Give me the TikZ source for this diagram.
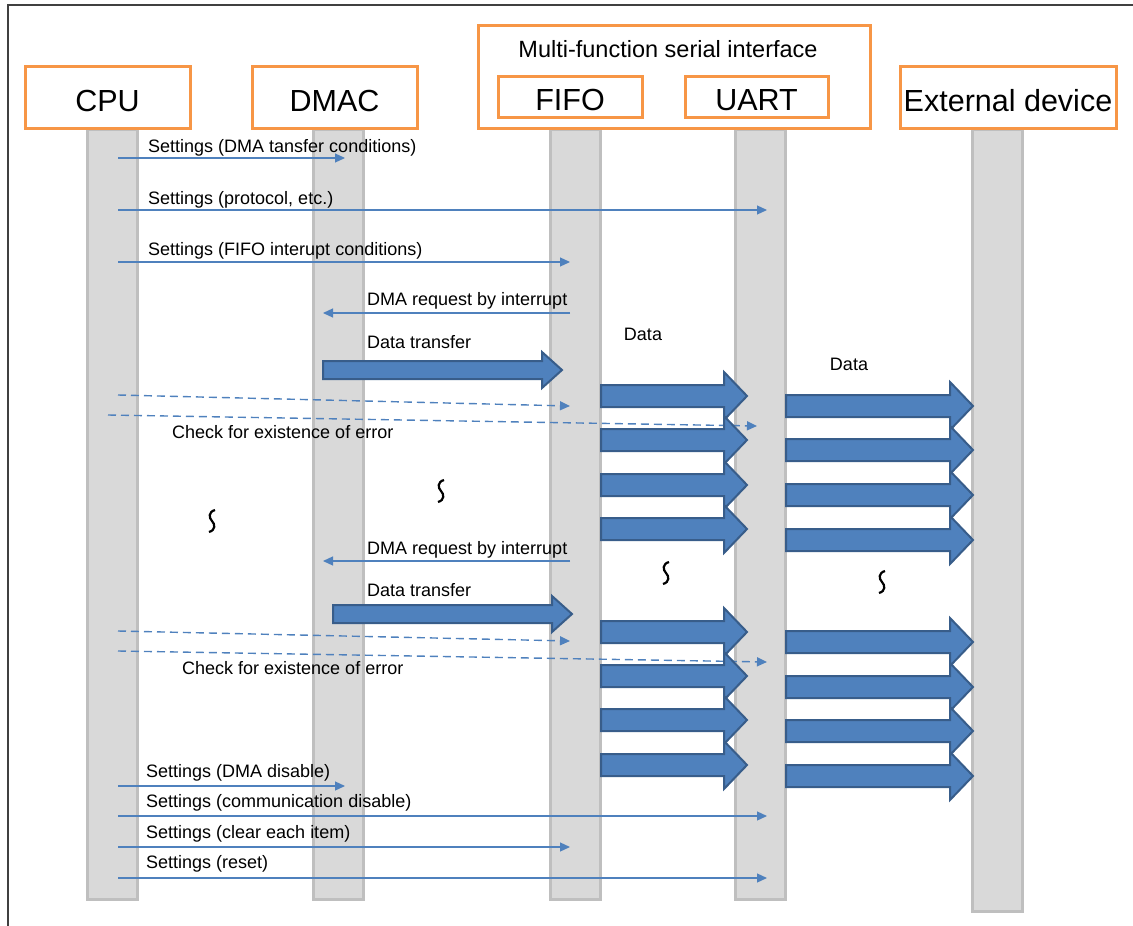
\documentclass[tikz,border=0pt]{standalone}
\usepackage{fontspec}
\setmainfont{Liberation Sans}
\usetikzlibrary{arrows.meta,positioning}

\definecolor{boxorange}{HTML}{F79646}
\definecolor{lifegray}{HTML}{D9D9D9}
\definecolor{lifeedge}{HTML}{BFBFBF}
\definecolor{msgblue}{HTML}{4F81BD}
\definecolor{blockedge}{HTML}{385D8A}
\definecolor{framegray}{HTML}{404040}

\begin{document}
\begin{tikzpicture}[x=1pt, y=-1pt, font=\fontsize{18}{20}\selectfont,
  unit/.style={draw=boxorange, line width=3pt, fill=white, inner sep=0pt,
    text height=28pt, text depth=0pt, font=\fontsize{30.5}{34}\selectfont},
  life/.style={draw=lifeedge, fill=lifegray, line width=3pt, inner sep=0pt,
    anchor=north, minimum width=50pt},
  msg/.style={draw=msgblue, line width=1.2pt, -{Triangle[length=10pt,width=9pt]}},
  check/.style={msg, dash pattern=on 8pt off 5pt, line width=1.4pt},
  lbl/.style={anchor=west, inner sep=0pt},
  datablk/.style={fill=msgblue, draw=blockedge, line width=2pt, line join=miter}]
\useasboundingbox (0,0) rectangle (1133,926);

% outer frame
\draw[framegray, line width=1.5pt] (8,926) -- (8,5) -- (1133,5);

% lifelines
\node[life, minimum height=770pt] (cpuL)  at (112.5,128) {};
\node[life, minimum height=770pt] (dmacL) at (338.5,128) {};
\node[life, minimum height=770pt] (fifoL) at (575.5,128) {};
\node[life, minimum height=770pt] (uartL) at (760.5,128) {};
\node[life, minimum height=782pt] (extL)  at (997.5,128) {};

% units
\node[unit, minimum width=165pt, minimum height=62pt] (cpu)  at (107.5,97) {CPU};
\node[unit, minimum width=165pt, minimum height=62pt] (dmac) at (334.5,97) {DMAC};
\node[unit, minimum width=392pt, minimum height=103pt] (mfs) at (674,76.5) {};
\node[font=\fontsize{23.5}{26}\selectfont] (mfstitle) at (668,49) {Multi-function serial interface};
\node[unit, minimum width=144pt, minimum height=41pt] (fifo) at (570,96.5) {FIFO};
\node[unit, minimum width=143pt, minimum height=41pt] (uart) at (756.5,96.5) {UART};
\node[unit, minimum width=216pt, minimum height=62pt] (ext) at (1008,97) {External device};

% arrow end points on the lifelines
\coordinate (cpuX)  at (118,0);
\coordinate (cpuW)  at (108,0);
\coordinate (dmacX) at (345,0);
\coordinate (dmacY) at (323,0);
\coordinate (fifoX) at (570,0);
\coordinate (uartX) at (767,0);
\coordinate (uartW) at (757,0);

% settings
\foreach \f/\t/\y in {cpuX/dmacX/158, cpuX/uartX/210, cpuX/fifoX/262,
                      fifoX/dmacY/313, fifoX/dmacY/561,
                      cpuX/dmacX/786, cpuX/uartX/816, cpuX/fifoX/847, cpuX/uartX/878}
  \draw[msg] (\f |- 0,\y) -- (\t |- 0,\y);

% error checks
\draw[check] (cpuX |- 0,395) -- (fifoX |- 0,406);
\draw[check] (cpuW |- 0,415) -- (uartW |- 0,426);
\draw[check] (cpuX |- 0,631) -- (fifoX |- 0,641);
\draw[check] (cpuX |- 0,651) -- (uartX |- 0,662);

% data transfer (DMAC -> FIFO)
\foreach \a/\b/\c in {323/562/370, 333/572/614}
  \filldraw[datablk] (\a,\c-9) -- (\b-20,\c-9) -- (\b-20,\c-18) -- (\b,\c)
    -- (\b-20,\c+18) -- (\b-20,\c+9) -- (\a,\c+9) -- cycle;

% data (FIFO -> UART -> external device)
\foreach \a/\b/\c in {601/747/396, 601/747/440, 601/747/485, 601/747/529,
                      786/973/406, 786/973/450, 786/973/495, 786/973/540,
                      601/747/632, 601/747/676, 601/747/720, 601/747/765,
                      786/973/642, 786/973/687, 786/973/731, 786/973/776}
  \filldraw[datablk] (\a,\c-11) -- (\b-23,\c-11) -- (\b-23,\c-24) -- (\b,\c)
    -- (\b-23,\c+24) -- (\b-23,\c+11) -- (\a,\c+11) -- cycle;

% omission marks
\foreach \x/\y in {441/491, 212/521, 666/573, 882/582}
  \draw[line width=2.2pt] (\x+3,\y-11) .. controls (\x-4,\y-9) and (\x-3,\y-3) .. (\x,\y)
    .. controls (\x+3,\y+3) and (\x+4,\y+9) .. (\x-3,\y+11);

% labels
\node[lbl] (t1)  at (148,148) {Settings (DMA tansfer conditions)};
\node[lbl] (t2)  at (148,200) {Settings (protocol, etc.)};
\node[lbl] (t3)  at (148,251) {Settings (FIFO interupt conditions)};
\node[lbl] (t4)  at (367,301) {DMA request by interrupt};
\node[lbl] (t5)  at (367,342) {Data transfer};
\node[lbl] (t6)  at (172,432) {Check for existence of error};
\node (t7) at (643,334) {Data};
\node (t8) at (849,364) {Data};
\node[lbl] (t9)  at (367,550) {DMA request by interrupt};
\node[lbl] (t10) at (367,590) {Data transfer};
\node[lbl] (t11) at (182,668) {Check for existence of error};
\node[lbl] (t12) at (146,773) {Settings (DMA disable)};
\node[lbl] (t13) at (146,803) {Settings (communication disable)};
\node[lbl] (t14) at (146,834) {Settings (clear each item)};
\node[lbl] (t15) at (146,864) {Settings (reset)};
\end{tikzpicture}
\end{document}
